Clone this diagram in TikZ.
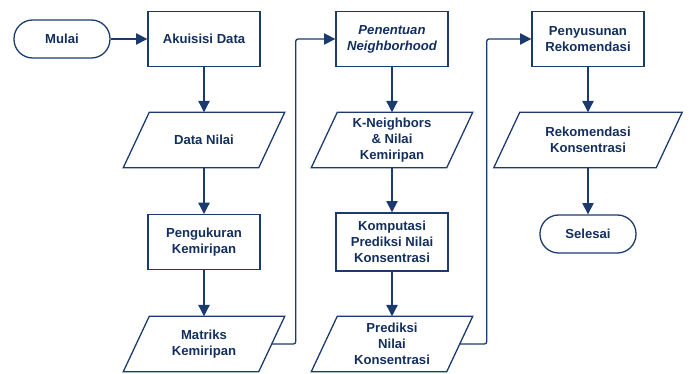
\documentclass[tikz,border=0pt]{standalone}
\usepackage{fontspec}
\setmainfont{Liberation Sans}
\usetikzlibrary{arrows.meta}
\definecolor{Navy}{HTML}{1B3A6E}
\definecolor{NavyInk}{HTML}{142F5E}
\tikzset{
  termbox/.style={draw=Navy,fill=white,rounded corners=0.56cm,minimum width=2.88cm,minimum height=1.14cm,align=center,font=\fontsize{11.2}{13.6}\selectfont\bfseries,text=NavyInk,line width=1.1pt},
  procbox/.style={draw=Navy,fill=white,minimum width=3.36cm,minimum height=1.64cm,align=center,font=\fontsize{11.2}{13.6}\selectfont\bfseries,text=NavyInk,line width=1.1pt},
  databox/.style={minimum width=4.05cm,minimum height=1.65cm,inner sep=1pt,align=center,font=\fontsize{11.2}{13.6}\selectfont\bfseries,text=NavyInk},
  dataedge/.style={draw=Navy,line width=1.1pt},
  line/.style={-{Triangle[length=3.4mm,width=3.4mm]},draw=Navy,line width=1.1pt,rounded corners=2pt}
}
\begin{document}
\begin{tikzpicture}[x=0.03cm,y=0.03cm]
      \useasboundingbox (0,0) rectangle (689,374);
      % kolom 1
      \node[termbox] (mulai) at (62,335) {Mulai};
      \node[procbox] (akuisisi) at (204,335) {Akuisisi Data};
      \node[databox] (datanilai) at (204,234) {Data Nilai};
      \node[procbox] (pengukuran) at (204,132) {Pengukuran\\Kemiripan};
      \node[databox] (matriks) at (204,30) {Matriks\\Kemiripan};
      % kolom 2
      \node[procbox] (penentuan) at (392,335) {\itshape Penentuan\\\itshape Neighborhood};
      \node[databox] (kneighbors) at (392,234) {K-Neighbors\\\& Nilai\\Kemiripan};
      \node[procbox,minimum height=1.74cm] (komputasi) at (392,132) {Komputasi\\Prediksi Nilai\\Konsentrasi};
      \node[databox] (prediksi) at (392,30) {Prediksi\\Nilai\\Konsentrasi};
      % kolom 3
      \node[procbox] (penyusunan) at (588,335) {Penyusunan\\Rekomendasi};
      \node[databox,minimum width=4.86cm] (rekomendasi) at (588,234) {Rekomendasi\\Konsentrasi};
      \node[termbox] (selesai) at (588,140) {Selesai};

      % jajaran genjang untuk data
      \foreach \n in {datanilai,matriks,kneighbors,prediksi,rekomendasi}
        \draw[dataedge] ([xshift=0.39cm]\n.north west) -- ([xshift=0.39cm]\n.north east)
          -- ([xshift=-0.39cm]\n.south east) -- ([xshift=-0.39cm]\n.south west) -- cycle;

      \draw[line] (mulai) -- (akuisisi);
      \draw[line] (akuisisi) -- (datanilai);
      \draw[line] (datanilai) -- (pengukuran);
      \draw[line] (pengukuran) -- (matriks);
      \draw[line] (matriks.east) -- ++(24,0) |- (penentuan.west);
      \draw[line] (penentuan) -- (kneighbors);
      \draw[line] (kneighbors) -- (komputasi);
      \draw[line] (komputasi) -- (prediksi);
      \draw[line] (prediksi.east) -- ++(27,0) |- (penyusunan.west);
      \draw[line] (penyusunan) -- (rekomendasi);
      \draw[line] (rekomendasi) -- (selesai);
    \end{tikzpicture}
\end{document}
